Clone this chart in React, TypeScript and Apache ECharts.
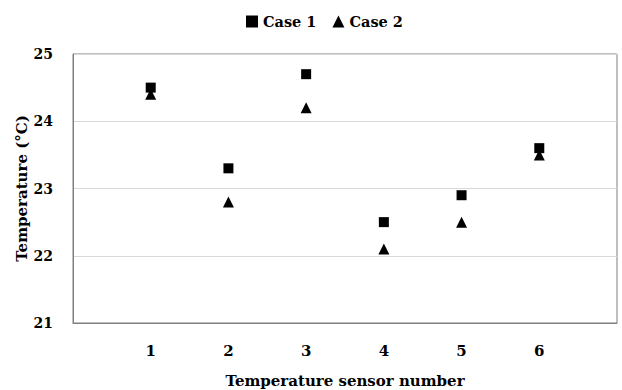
import React, { useEffect, useRef } from "react";
import * as echarts from "echarts";

const sensors = [1, 2, 3, 4, 5, 6];
const case1 = [24.5, 23.3, 24.7, 22.5, 22.9, 23.6];
const case2 = [24.4, 22.8, 24.2, 22.1, 22.5, 23.5];
const yTicks = [21, 22, 23, 24, 25];

const FONT = "'DejaVu Serif', serif";

export default function App() {
  const ref = useRef<HTMLDivElement>(null);
  useEffect(() => {
    if (!ref.current) return;
    const chart = echarts.init(ref.current, undefined, { renderer: "svg" });
    chart.setOption({
      animation: false,
      textStyle: { fontFamily: FONT },
      legend: {
        top: 9,
        left: 241,
        itemWidth: 12,
        itemHeight: 12,
        itemGap: 16,
        textStyle: { fontFamily: FONT, fontWeight: "bold", fontSize: 14.5, color: "#000" },
        data: ["Case 1", "Case 2"],
      },
      grid: {
        left: 73,
        right: 5,
        top: 54,
        bottom: 67,
        outerBoundsMode: "none",
        containLabel: false,
        show: true,
        borderColor: "#7f7f7f",
        borderWidth: 1,
      },
      xAxis: {
        type: "value",
        min: 0,
        max: 7,
        interval: 1,
        name: "Temperature sensor number",
        nameLocation: "middle",
        nameGap: 50,
        nameMoveOverlap: false,
        nameTextStyle: { fontFamily: FONT, fontWeight: "bold", fontSize: 15, color: "#000" },
        axisLine: { show: true, lineStyle: { color: "#7f7f7f" } },
        axisTick: { show: false },
        splitLine: { show: false },
        axisLabel: {
          margin: 20,
          fontFamily: FONT,
          fontWeight: "bold",
          fontSize: 15,
          color: "#000",
          formatter: (v: number) => (sensors.includes(v) ? String(v) : ""),
        },
      },
      yAxis: {
        type: "value",
        min: yTicks[0],
        max: yTicks[yTicks.length - 1],
        interval: 1,
        name: "Temperature (°C)",
        nameLocation: "middle",
        nameGap: 44,
        nameMoveOverlap: false,
        nameTextStyle: { fontFamily: FONT, fontWeight: "bold", fontSize: 15, color: "#000" },
        axisLine: { show: true, lineStyle: { color: "#7f7f7f" } },
        axisTick: { show: false },
        splitLine: { show: true, lineStyle: { color: "#d9d9d9", width: 1 } },
        axisLabel: {
          margin: 20,
          fontFamily: FONT,
          fontWeight: "bold",
          fontSize: 14,
          color: "#000",
        },
      },
      series: [
        {
          name: "Case 1",
          type: "scatter",
          symbol: "rect",
          symbolSize: 10,
          itemStyle: { color: "#000", opacity: 1 },
          data: sensors.map((s, i) => [s, case1[i]]),
        },
        {
          name: "Case 2",
          type: "scatter",
          symbol: "triangle",
          symbolSize: 11,
          itemStyle: { color: "#000", opacity: 1 },
          data: sensors.map((s, i) => [s, case2[i]]),
        },
      ],
    });
    return () => chart.dispose();
  }, []);
  return <div ref={ref} style={{ width: 622, height: 390, position: "absolute", left: 0, top: 0, background: "#fff" }} />;
}
